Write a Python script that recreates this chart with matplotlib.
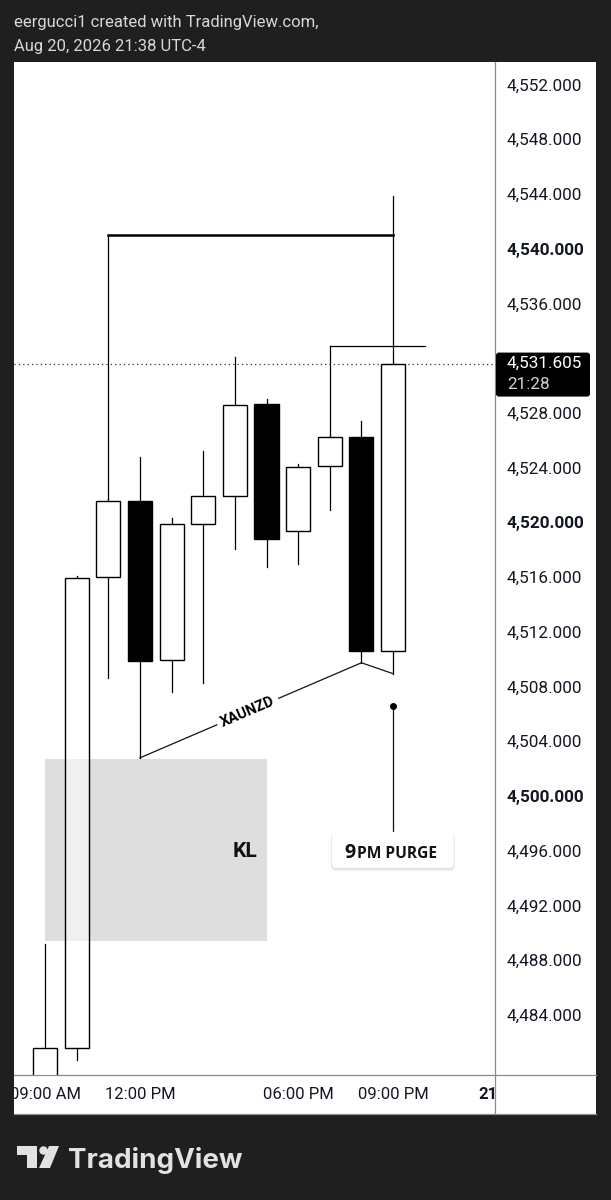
import numpy as np
import matplotlib.pyplot as plt
from matplotlib.patches import Rectangle, FancyBboxPatch, Polygon, Circle
import matplotlib.transforms as mtransforms

W, H = 611, 1200
BG = "#1f1f1f"
INK = "#131722"

plt.rcParams["font.family"] = ["Roboto", "DejaVu Sans"]

# XAUNZD 1h bars, Aug 20 2026 (slot index; the 5PM bar is missing)
opens  = [4478.5, 4481.61, 4516.03, 4521.59, 4509.96, 4519.90, 4521.95, 4528.68, 4519.39, 4524.14, 4526.26, 4510.61]
highs  = [4489.19, 4516.10, 4521.70, 4524.80, 4520.34, 4525.24, 4532.11, 4529.04, 4524.29, 4526.30, 4527.43, 4543.89]
lows   = [4478.0, 4480.71, 4508.64, 4502.79, 4507.62, 4508.28, 4518.08, 4516.76, 4516.98, 4520.93, 4509.74, 4508.94]
closes = [4481.57, 4515.92, 4521.59, 4509.89, 4519.90, 4521.95, 4528.60, 4518.81, 4524.07, 4526.26, 4510.61, 4531.605]

price_ticks = np.arange(4484, 4553, 4)
bold_ticks = [4500, 4520, 4540]
time_ticks = [0, 3, 8, 11, 14]
time_labels = ["09:00 AM", "12:00 PM", "06:00 PM", "09:00 PM", "21"]
last_price = 4531.605
last_time = "21:28"

# drawings on the chart
sweep_level, sweep_span = 4541.04, (2, 11)
range_level, range_span = 4532.92, (9, 12)
trend_x = [3, 10, 11]
trend_y = [4502.79, 4509.74, 4508.94]
kl_span, kl_low, kl_high = (0, 7), 4489.41, 4502.72
purge_x, purge_dot, purge_top = 11, 4506.60, 4497.38

XLIM = (-0.98, 14.22)
YLIM = (4479.61, 4553.65)


def frac(x0, y0, x1, y1):
    return [x0 / W, 1 - y1 / H, (x1 - x0) / W, (y1 - y0) / H]


fig = plt.figure(figsize=(W / 100, H / 100), dpi=100, facecolor=BG)

# background layer in pixel coords: panel, borders, header, logo
bg = fig.add_axes([0, 0, 1, 1])
bg.set_xlim(0, W)
bg.set_ylim(H, 0)
bg.axis("off")
bg.add_patch(Rectangle((14, 62), 582, 1052, fc="white", ec="none"))
for xs, ys in [([495, 495], [62, 1114]), ([14, 596], [1075, 1075]), ([14, 596], [1114, 1114])]:
    bg.plot(xs, ys, color="#8c8c8c", lw=0.9)
bg.text(14, 23, "eergucci1 created with TradingView.com,", color="#d8d8d8", fontsize=12, va="center")
bg.text(14, 47, "Aug 20, 2026 21:38 UTC-4", color="#d8d8d8", fontsize=12, va="center")

logo_c = "#e2e2e2"
bg.add_patch(Polygon([(17, 1146), (37, 1146), (37, 1168), (27, 1168), (27, 1155), (17, 1155)], fc=logo_c, ec="none"))
bg.add_patch(Circle((43.5, 1150.5), 4.2, fc=logo_c, ec="none"))
bg.add_patch(Polygon([(49, 1146), (59, 1146), (50, 1168), (39, 1168)], fc=logo_c, ec="none"))
bg.text(68, 1168, "TradingView", fontsize=20, fontweight="bold", color=logo_c, va="baseline",
        family=["Inter", "Roboto"])

# main price pane
ax = fig.add_axes(frac(14, 62, 495, 1075))
ax.set_facecolor("none")
ax.set_xlim(*XLIM)
ax.set_ylim(*YLIM)
for s in ax.spines.values():
    s.set_visible(False)
ax.set_xticks([])
ax.set_yticks(price_ticks, labels=[f"{v:,.3f}" for v in price_ticks])
ax.yaxis.tick_right()
ax.tick_params(axis="y", length=0, pad=8.6, labelsize=12.3, labelcolor=INK)
for v, lbl in zip(price_ticks, ax.get_yticklabels()):
    if v in bold_ticks:
        lbl.set_fontweight("bold")
    if abs(v - last_price) < 2:
        lbl.set_visible(False)  # sits under the last-price tag

# key level box
ax.add_patch(Rectangle((kl_span[0], kl_low), kl_span[1] - kl_span[0], kl_high - kl_low,
                       fc="#dedede", ec="none", zorder=1))
ax.text(6.32, 4495.92, "KL", fontsize=15, fontweight="bold", color="#111111",
        ha="center", va="center", zorder=3)

# candles
bw = 0.76
for i, (o, h, l, c) in enumerate(zip(opens, highs, lows, closes)):
    lo, hi = min(o, c), max(o, c)
    ax.plot([i, i], [l, lo], color="black", lw=0.9, zorder=3)
    ax.plot([i, i], [hi, h], color="black", lw=0.9, zorder=3)
    fc = (1, 1, 1, 0.55) if c >= o else "black"
    ax.add_patch(Rectangle((i - bw / 2, lo), bw, hi - lo, fc=fc, ec="black", lw=1.0, zorder=4))

# last price line
ax.axhline(last_price, color="#333333", lw=0.9, ls=(0, (1, 2.5)), zorder=2)

# liquidity brackets
ax.plot(sweep_span, [sweep_level] * 2, color="black", lw=1.8, zorder=5)
ax.plot([sweep_span[0]] * 2, [sweep_level, closes[sweep_span[0]]], color="black", lw=0.9, zorder=5)
ax.plot(range_span, [range_level] * 2, color="black", lw=0.9, zorder=5)
ax.plot([range_span[0]] * 2, [range_level, closes[range_span[0]]], color="black", lw=0.9, zorder=5)

# trendline through lows
ax.plot(trend_x, trend_y, color="#111111", lw=0.9, zorder=5)
p0 = ax.transData.transform((trend_x[0], trend_y[0]))
p1 = ax.transData.transform((trend_x[1], trend_y[1]))
ang = np.degrees(np.arctan2(p1[1] - p0[1], p1[0] - p0[0]))
ax.text(6.41, 4506.16, "XAUNZD", fontsize=10.5, fontweight="bold", color="black", rotation=ang,
        rotation_mode="anchor", ha="center", va="center", zorder=6,
        bbox=dict(boxstyle="square,pad=0.3", fc="white", ec="none"))

# 9PM purge callout
ax.plot([purge_x, purge_x], [purge_dot, purge_top], color="#111111", lw=0.9, zorder=5)
ax.plot(purge_x, purge_dot, "o", color="black", ms=4, zorder=6)
for k, a in [(0.30, 0.05), (0.15, 0.08)]:
    ax.add_patch(FancyBboxPatch((9.07 - k * 0.1, 4494.75 - k * 0.8), 3.85 + k * 0.2, 2.63 + k * 0.6,
                                boxstyle="round,pad=0,rounding_size=0.15", mutation_aspect=2.314,
                                fc=(0, 0, 0, a), ec="none", zorder=5.5))
ax.add_patch(FancyBboxPatch((9.07, 4494.75), 3.85, 2.63, boxstyle="round,pad=0,rounding_size=0.12",
                            mutation_aspect=2.314, fc="white", ec="none", zorder=6))
t9 = ax.text(9.45, 4495.48, "9", fontsize=14, fontweight="bold", color="#111111", va="baseline",
             ha="left", zorder=7, family=["Open Sans", "DejaVu Sans"])
ax.annotate("PM PURGE", xy=(1, 0), xycoords=t9, xytext=(1.0, 0.8), textcoords="offset points",
            fontsize=11.2, fontweight="bold", color="#111111", ha="left", va="bottom", zorder=7,
            family=["Open Sans", "DejaVu Sans"])

# price tag on the scale
tr = mtransforms.blended_transform_factory(ax.transAxes, ax.transData)
ax.add_patch(FancyBboxPatch((1.002, last_price - 2.41), 0.1955, 3.217, boxstyle="round,pad=0,rounding_size=0.006",
                            mutation_aspect=35.17, transform=tr, fc="black", ec="none", zorder=8, clip_on=False))
ax.text(1.025, last_price, f"{last_price:,.3f}", transform=tr, fontsize=12.3, color="white",
        va="center", ha="left", zorder=9, clip_on=False)
ax.text(1.025, last_price - 1.54, last_time, transform=tr, fontsize=12.3, color="#d4d4d4",
        va="center", ha="left", zorder=9, clip_on=False)

# time scale row
ax_t = fig.add_axes(frac(14, 1075, 495, 1114), sharex=ax)
ax_t.axis("off")
ax_t.set_ylim(0, 1)
for x, s in zip(time_ticks, time_labels):
    ax_t.text(x, 0.5, s, fontsize=12, color=INK, ha="center", va="center", clip_on=True,
              fontweight="bold" if s == "21" else "normal")

fig.savefig("out.png", dpi=100, facecolor=BG)
